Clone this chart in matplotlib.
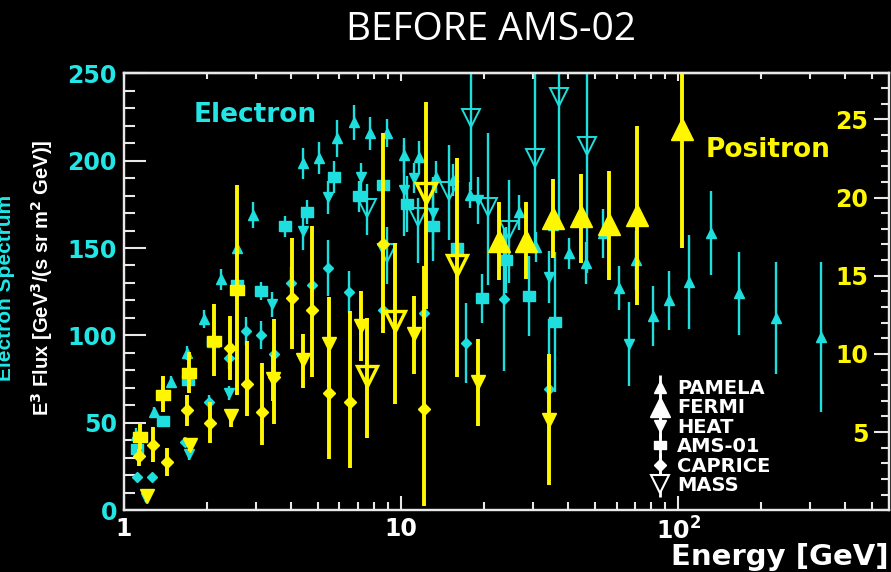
import numpy as np
import matplotlib
matplotlib.use('Agg')
import matplotlib.pyplot as plt
from matplotlib.lines import Line2D
from matplotlib.ticker import FixedLocator, MultipleLocator, NullFormatter

plt.rcParams['font.family'] = 'DejaVu Sans'
plt.rcParams['mathtext.default'] = 'bf'

CYAN = '#1EDEDE'
CYAN_TXT = '#22E6E6'
YELLOW = '#FFF700'
WHITE = '#E8E8E8'

# ---- electron spectrum, E^3 flux [GeV^3/(s sr m^2 GeV)] ----
pamela_e = [1.105, 1.28, 1.48, 1.69, 1.94, 2.24, 2.56, 2.92, 4.43, 5.06, 5.87, 6.77, 7.73, 8.90,
            10.25, 11.6, 13.4, 15.4, 17.7, 26.7, 30.7, 35.4, 40.4, 46.5, 53.6, 61.2, 70.5, 81.2,
            92.8, 109.6, 131.6, 166, 226, 328]
pamela_v = [42.9, 56.1, 73.2, 89.8, 109.3, 132.2, 149.9, 168.8, 198.5, 201.4, 212.8, 222, 215.7, 215.7,
            203.1, 201.9, 190.5, 188.8, 180.2, 170.5, 150.5, 163, 147, 141.3, 158.5, 127, 143, 111,
            120, 130.4, 158.5, 124, 110, 99]
pamela_err = [4, 3, 3.5, 4, 5, 6, 7, 7.5, 9, 9, 10.5, 10, 9.5, 8,
              10, 9.5, 9, 9, 7.5, 10, 8.5, 12, 9, 12, 14, 12.5, 17, 17,
              17, 27, 24, 24, 32, 43]

heat_e = [1.20, 1.72, 2.39, 3.42, 4.43, 5.45, 7.17, 10.25, 11.1, 13.0, 19.0, 34.2, 66.5]
heat_v = [6.9, 32, 66.9, 117.8, 159.6, 179.1, 190.5, 183, 189.9, 169.9, 177.3, 133.3, 95]
heat_err = [2, 3, 4, 7, 10.5, 9.5, 8, 26, 8.5, 21, 13.5, 15, 24]

ams_e = [1.12, 1.38, 1.70, 2.09, 2.56, 3.12, 3.81, 4.58, 5.73, 7.05, 8.61, 10.5, 13.0, 15.9,
         19.6, 23.9, 29.0, 36.0]
ams_v = [34.9, 50.9, 74.4, 96.1, 128.7, 125.3, 162.5, 170.5, 190.5, 179.6, 185.9, 175.1, 162.5, 149.9,
         121.3, 143, 122.4, 107.6]
ams_err = [3, 3, 4, 4, 5, 5, 6, 7, 9, 9, 10, 16, 20, 10, 14, 19, 23, 40]

caprice_e = [1.12, 1.26, 1.66, 2.03, 2.39, 2.76, 3.12, 3.48, 4.01, 4.77, 5.45, 6.49, 8.61, 12.1,
             17.2, 23.5, 34.2]
caprice_v = [18.9, 18.9, 38.9, 61.8, 87, 102.4, 100.1, 89.2, 129.9, 128.7, 138.4, 124.7, 114.4, 112.7,
             95.5, 120.7, 69.2]
caprice_err = [2, 2, 3, 4, 6, 8, 8, 8, 9, 10, 16, 12, 10, 12, 23, 41, 40]

mass_e = [7.54, 8.90, 11.5, 14.9, 17.9, 20.6, 24.5, 30.5, 37.2, 46.9]
mass_v = [172.8, 147, 167.6, 182.5, 224.3, 173.3, 160.2, 201.4, 236.3, 208.2]
mass_lo = [157.3, 129.3, 141.3, 154.5, 183, 128.7, 129.9, 151.6, 161.9, 135.6]
mass_hi = [186.5, 161.9, 178.5, 208.8, 260, 215.7, 188.8, 260, 260, 260]

# ---- positron spectrum (right-hand scale) ----
ams_p_e = [1.14, 1.39, 1.72, 2.11, 2.56]
ams_p_v = [4.7, 7.4, 8.8, 10.8, 14.1]
ams_p_lo = [3.9, 6.3, 7.5, 8.6, 7.4]
ams_p_hi = [5.6, 8.6, 10.1, 13.2, 20.8]

caprice_p_e = [1.13, 1.27, 1.43, 1.69, 2.04, 2.41, 2.78, 3.15, 3.48, 4.04, 4.77, 5.50, 6.55, 8.61, 12.1]
caprice_p_v = [3.5, 4.2, 3.1, 6.4, 5.6, 10.4, 8.1, 6.3, 8.5, 13.6, 12.8, 7.5, 6.9, 17.05, 6.5]
caprice_p_lo = [2.8, 3.1, 2.2, 5.4, 4.3, 8.3, 6.0, 4.2, 5.5, 10.3, 8.5, 3.3, 2.7, 11.35, 0.26]
caprice_p_hi = [3.9, 5.3, 4.0, 7.4, 6.9, 12.4, 10.8, 9.4, 12.2, 17.4, 18.2, 10.2, 12.75, 24.1, 15.6]

heat_p_e = [1.21, 1.73, 2.43, 3.45, 4.43, 5.50, 7.17, 11.1, 19.0, 34.2]
heat_p_v = [0.9, 4.2, 6.0, 8.4, 9.6, 10.6, 11.8, 11.3, 8.2, 5.8]
heat_p_lo = [0.5, 3.8, 5.3, 7.0, 7.8, 7.9, 9.55, 8.7, 5.4, 1.6]
heat_p_hi = [1.3, 4.6, 6.5, 9.9, 11.3, 13.65, 14.0, 13.7, 10.96, 10.0]

mass_p_e = [7.54, 9.51, 12.3, 15.9]
mass_p_v = [8.6, 12.1, 20.3, 15.7]
mass_p_lo = [4.6, 6.8, 12.9, 8.5]
mass_p_hi = [12.3, 17.1, 26.1, 22.5]

fermi_p_e = [22.6, 28.3, 35.4, 44.7, 56.3, 71.1, 103.4]
fermi_p_v = [17.2, 17.2, 18.7, 18.8, 18.3, 18.9, 24.4]
fermi_p_lo = [14.7, 14.8, 16.15, 15.8, 14.7, 13.1, 16.8]
fermi_p_hi = [19.7, 19.7, 21.2, 21.5, 21.7, 24.55, 29.0]

legend_names = ['PAMELA', 'FERMI', 'HEAT', 'AMS-01', 'CAPRICE', 'MASS']

# wide rectangle used for the AMS-01 points
RECT = [(-1.3, -1), (1.3, -1), (1.3, 1), (-1.3, 1), (-1.3, -1)]


def asym(v, lo, hi):
    v, lo, hi = np.asarray(v), np.asarray(lo), np.asarray(hi)
    return [v - lo, hi - v]


fig = plt.figure(figsize=(8.91, 5.72), dpi=100, facecolor='black')
ax = fig.add_axes([0.139, 0.108, 0.859, 0.764])
ax.set_facecolor('black')
ax2 = ax.twinx()

# electrons
ekw = dict(color=CYAN, ecolor=CYAN, elinewidth=1.7, capsize=0, ls='none')
ax.errorbar(pamela_e, pamela_v, yerr=pamela_err, marker='^', ms=7.5, **ekw)
ax.errorbar(heat_e, heat_v, yerr=heat_err, marker='v', ms=7.5, **ekw)
ax.errorbar(ams_e, ams_v, yerr=ams_err, marker=RECT, ms=9, **ekw)
ax.errorbar(caprice_e, caprice_v, yerr=caprice_err, marker='D', ms=5.5, **ekw)
ax.errorbar(mass_e, mass_v, yerr=asym(mass_v, mass_lo, mass_hi), marker='v', ms=13,
            mfc='none', mec=CYAN, mew=1.4, **ekw)

# positrons
pkw = dict(color=YELLOW, ecolor=YELLOW, elinewidth=2.8, capsize=0, ls='none')
ax2.errorbar(ams_p_e, ams_p_v, yerr=asym(ams_p_v, ams_p_lo, ams_p_hi), marker=RECT, ms=10, **pkw)
ax2.errorbar(caprice_p_e, caprice_p_v, yerr=asym(caprice_p_v, caprice_p_lo, caprice_p_hi),
             marker='D', ms=6, **pkw)
ax2.errorbar(heat_p_e, heat_p_v, yerr=asym(heat_p_v, heat_p_lo, heat_p_hi), marker='v', ms=10, **pkw)
ax2.errorbar(mass_p_e, mass_p_v, yerr=asym(mass_p_v, mass_p_lo, mass_p_hi), marker='v', ms=15,
             mfc='none', mec=YELLOW, mew=2.4, **pkw)
ax2.errorbar(fermi_p_e, fermi_p_v, yerr=asym(fermi_p_v, fermi_p_lo, fermi_p_hi), marker='^', ms=16, **pkw)

ax.set_xscale('log')
ax.set_xlim(1, 578)
ax.set_ylim(0, 250)
ax2.set_ylim(0, 27.95)

for a in (ax, ax2):
    for s in a.spines.values():
        s.set_color(WHITE)
        s.set_linewidth(1.6)

# left axis
ax.yaxis.set_major_locator(MultipleLocator(50))
ax.yaxis.set_minor_locator(MultipleLocator(10))
ax.tick_params(axis='y', which='both', direction='in', colors=WHITE, right=False,
               labelcolor=CYAN_TXT, labelsize=17, width=1.5, pad=5)
ax.tick_params(axis='y', which='major', length=16)
ax.tick_params(axis='y', which='minor', length=8)
for t in ax.get_yticklabels():
    t.set_fontweight('bold')

# bottom axis
ax.xaxis.set_major_locator(FixedLocator([1, 10, 100]))
ax.set_xticklabels(['1', '10', '10$^{2}$'])
ax.xaxis.set_minor_formatter(NullFormatter())
ax.tick_params(axis='x', which='both', direction='in', colors=WHITE, top=False,
               labelcolor='white', labelsize=17, width=1.5, pad=5)
ax.tick_params(axis='x', which='major', length=10)
ax.tick_params(axis='x', which='minor', length=6)
for t in ax.get_xticklabels():
    t.set_fontweight('bold')

# top axis, shorter ticks
top = ax.secondary_xaxis('top')
top.tick_params(axis='x', which='both', direction='in', colors=WHITE, labeltop=False, width=1.5)
top.tick_params(axis='x', which='major', length=6)
top.tick_params(axis='x', which='minor', length=4)
top.spines['top'].set_color(WHITE)
top.spines['top'].set_linewidth(1.6)

# right axis, labels sit inside the frame next to the ticks
ax2.yaxis.set_major_locator(FixedLocator([5, 10, 15, 20, 25]))
ax2.yaxis.set_minor_locator(MultipleLocator(1))
ax2.tick_params(axis='y', which='both', direction='in', colors=WHITE,
                labelcolor=YELLOW, labelsize=17, width=1.5)
ax2.tick_params(axis='y', which='major', length=11, pad=-15)
ax2.tick_params(axis='y', which='minor', length=6)
for t in ax2.get_yticklabels():
    t.set_fontweight('bold')
    t.set_horizontalalignment('right')

fig.text(0.997, 0.027, 'Energy [GeV]', color='white', fontsize=21, fontweight='bold',
         ha='right', va='center')

fig.text(0.047, 0.514, r'E$^{3}$ Flux [GeV$^{3}$/(s sr m$^{2}$ GeV)]', rotation=90, color='white',
         fontsize=14.5, ha='center', va='center', family='Liberation Sans', fontweight='bold')
fig.text(0.006, 0.497, 'Electron Spectrum', rotation=90, color=CYAN_TXT,
         fontsize=15, ha='center', va='center', family='Liberation Sans', fontweight='bold')

ax.text(0.171, 0.904, 'Electron', transform=ax.transAxes, color=CYAN_TXT, fontsize=19,
        fontweight='bold', ha='center', va='center')
ax2.text(0.842, 0.824, 'Positron', transform=ax2.transAxes, color=YELLOW, fontsize=19,
         fontweight='bold', ha='center', va='center')

fig.text(0.551, 0.948, 'BEFORE AMS-02', color='white', fontsize=28, family='Open Sans',
         ha='center', va='center')

# legend with white symbols and a short bar through each
bar = dict(marker='|', ms=18, mew=2, color='white', ls='')
sym = [dict(marker='^', ms=8), dict(marker='^', ms=14), dict(marker='v', ms=8),
       dict(marker=RECT, ms=8), dict(marker='D', ms=6), dict(marker='v', ms=13, mfc='black', mew=1.5)]
handles = []
for s in sym:
    handles.append((Line2D([], [], **bar), Line2D([], [], color='white', ls='', **s)))
leg = ax2.legend(handles, legend_names, loc='upper left', bbox_to_anchor=(0.677, 0.318),
                 frameon=False, handlelength=1.0, handletextpad=0.4, labelspacing=0.02,
                 borderaxespad=0, prop=dict(size=14, weight='bold'))
for t in leg.get_texts():
    t.set_color('white')

fig.savefig('out.png', dpi=100, facecolor='black')
